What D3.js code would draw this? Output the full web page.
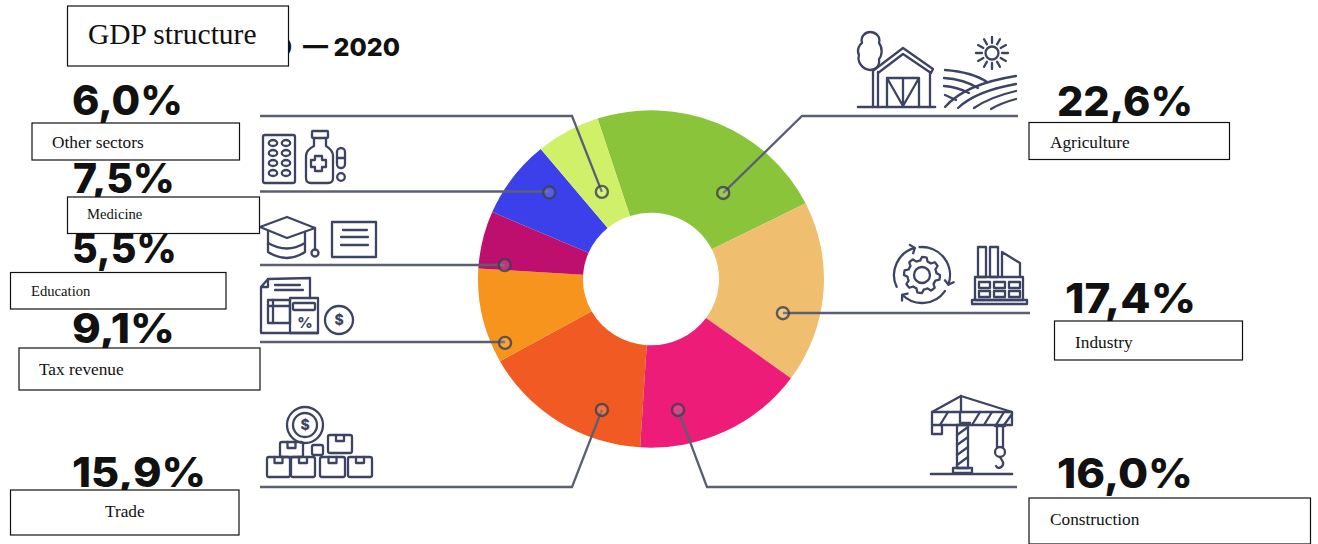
<!DOCTYPE html>
<html>
<head>
<meta charset="utf-8">
<script src="https://cdn.jsdelivr.net/npm/d3@7"></script>
<style>
  html, body { margin: 0; padding: 0; background: #fff; overflow: hidden; }
  svg { display: block; }
  .pct { font-family: Inter, sans-serif; font-weight: 800; fill: #111; }
  .tag { font-family: "Liberation Serif", serif; fill: #111; }
  .ico { fill: none; stroke: #3d4463; stroke-width: 2.3; stroke-linecap: round; stroke-linejoin: round; }
</style>
</head>
<body>
<script>
// GDP structure by sector, in percent, clockwise from the top of the ring
const categories = ["Agriculture", "Industry", "Construction", "Trade", "Tax revenue", "Education", "Medicine", "Other sectors"];
const shares = [22.6, 17.4, 16.0, 15.9, 9.1, 5.5, 7.5, 6.0];
const sliceColors = ["#8AC43A", "#EFBF6F", "#EC1C78", "#F15A22", "#F7941D", "#BE0F6E", "#3B40EA", "#D1F06A"];

const chartTitle = "GDP structure";
const titleYearEdge = "9";
const titleTail = "\u2014 2020";

// Where each leader sits inside its slice: fraction across the slice, distance from centre
const anchorFraction = [0.704, 0.663, 0.74, 0.288, 0.152, 0.1, 0.655, 0.5];
const anchorRadius = [114, 136.5, 137, 143, 160, 147, 135, 102];

// Leader routing: height of the rule, far end of the rule, optional elbow
const ruleY = [116, 313, 487, 487, 342, 265, 191.5, 116];
const ruleEnd = [1018, 1030, 1017, 260, 260, 260, 260, 260];
const ruleElbow = [802, null, 707, 572, null, null, null, 572];

// Large percentage labels: left edge, baseline and drawn width
const pctX = [1057, 1065, 1057, 72, 72, 72, 73, 72];
const pctY = [116, 313, 488, 487, 343, 263, 193, 115];
const pctWidth = [136, 131, 136, 134, 103, 105, 102, 111];

// Caption boxes: [x, y, width, height], then text start, baseline and size
const tagBox = [
  [1029, 122.5, 200.5, 37], [1054.5, 321, 188, 39], [1029, 498, 281.5, 46], [10.5, 490, 228.5, 45],
  [19, 348, 241, 42], [10.5, 272.5, 215.5, 36.5], [67.5, 197, 192, 36.5], [32, 123, 207.5, 37]
];
const tagTextX = [1050, 1075, 1050, 105, 39, 31, 87, 52];
const tagTextY = [148, 348, 525, 517, 375, 296, 219, 148];
const tagSize = [17.3, 17.3, 17.3, 17.3, 17.3, 14.67, 14.67, 17.3];

const width = 1318, height = 544;
const cx = 651, cy = 279, outerR = 173, innerR = 68, squash = 0.975;
const startDeg = -18;

const svg = d3.select("body").append("svg").attr("width", width).attr("height", height);
const rad = Math.PI / 180;

// --- Header remnant that runs behind the title box
svg.append("text").attr("class", "pct").attr("x", 292).attr("y", 56)
  .attr("text-anchor", "end").attr("font-size", 25).text(titleYearEdge);
svg.append("text").attr("class", "pct").attr("x", 400).attr("y", 56)
  .attr("text-anchor", "end").attr("font-size", 25).text(titleTail);

// --- Ring
const pie = d3.pie().sort(null).startAngle(startDeg * rad).endAngle((startDeg + 360) * rad);
const slices = pie(shares);
const arc = d3.arc().innerRadius(innerR).outerRadius(outerR);
const ring = svg.append("g").attr("transform", `translate(${cx},${cy}) scale(1,${squash})`);
ring.selectAll("path").data(slices).join("path")
  .attr("d", arc).attr("fill", (d, i) => sliceColors[i]);

// --- Leaders, rules and ring markers
const anchorOf = (d, i) => {
  const a = d.startAngle + (d.endAngle - d.startAngle) * anchorFraction[i];
  return [cx + anchorRadius[i] * Math.sin(a), cy - squash * anchorRadius[i] * Math.cos(a)];
};
const line = d3.line();
const leaders = svg.append("g");
leaders.selectAll("path").data(slices).join("path")
  .attr("d", (d, i) => {
    const [ax, ay] = anchorOf(d, i);
    const pts = [[ruleEnd[i], ruleY[i]]];
    if (ruleElbow[i] !== null) { pts.push([ruleElbow[i], ruleY[i]]); pts.push([ax, ay]); }
    else pts.push([ax, ruleY[i]]);
    return line(pts);
  })
  .attr("fill", "none").attr("stroke", "#5a5f73").attr("stroke-width", 2.3);
leaders.selectAll("circle").data(slices).join("circle")
  .attr("cx", (d, i) => anchorOf(d, i)[0])
  .attr("cy", (d, i) => anchorOf(d, i)[1])
  .attr("r", 6)
  .attr("fill", "rgba(255,255,255,0.15)")
  .attr("stroke", "#3c3f4a").attr("stroke-opacity", 0.8).attr("stroke-width", 2.4);

// --- Sector icons
const icons = svg.append("g").attr("class", "ico");
const P = (d, w) => icons.append("path").attr("d", d).attr("stroke-width", w || null);
const C = (x, y, r, w) => icons.append("circle").attr("cx", x).attr("cy", y).attr("r", r).attr("stroke-width", w || null);
const R = (x, y, w, h, rr) => icons.append("rect").attr("x", x).attr("y", y).attr("width", w).attr("height", h).attr("rx", rr || 0);
const glyph = (x, y, s, t) => svg.append("text").attr("x", x).attr("y", y)
  .attr("text-anchor", "middle").attr("font-family", "Inter, sans-serif").attr("font-weight", 800)
  .attr("font-size", s).attr("fill", "#3d4463").text(t);

// Farm: tree, barn, sun and furrows
P("M870 70 C862 69 857 62 859 55 C856 50 860 44 862 43 C860 36 866 32 870 32 C875 32 881 36 879 43 C883 48 882 56 879 59 C880 66 876 70 870 70 Z");
P("M873 70 L873 107 M878 72 L878 107");
P("M874 70 L903 48 L933 69 L931 73 L903 54 L878 73");
P("M930 72 L930 107");
P("M858 107 L935 107", 2.6);
P("M887 107 L887 78 L919 78 L919 107 M887 78 L903 106 L919 78 M903 78 L903 106");
C(992, 53, 6.5);
d3.range(12).forEach(k => {
  const a = k * 30 * rad;
  P(`M${992 + 10 * Math.cos(a)} ${53 + 10 * Math.sin(a)} L${992 + 16 * Math.cos(a)} ${53 + 16 * Math.sin(a)}`);
});
P("M945 70 Q972 72 987 82 M944 78 Q963 79 978 88 M944 86 Q957 87 969 93 M945 95 L956 100");
P("M945 107 Q965 84 1016 76 M958 108 Q976 91 1016 84 M974 108 Q990 97 1016 91 M991 109 Q1001 103 1016 99");

// Gear inside a circular arrow, and factory
const gcx = 922, gcy = 275;
const gearPts = d3.range(48).map(k => {
  const a = k / 48 * 2 * Math.PI;
  const r = (k % 6 < 3) ? 18 : 14.5;
  return [gcx + r * Math.cos(a), gcy + r * Math.sin(a)];
});
P(d3.line().curve(d3.curveLinearClosed)(gearPts));
C(gcx, gcy, 8);
const polar = (deg, r) => [gcx + r * Math.sin(deg * rad), gcy - r * Math.cos(deg * rad)];
const ringArc = d3.arc().innerRadius(28).outerRadius(28);
[[-5, 110], [125, 225], [245, 345]].forEach(([a0, a1]) => {
  P(ringArc({ startAngle: a0 * rad, endAngle: a1 * rad }).split("Z")[0].split("L")[0])
    .attr("transform", `translate(${gcx},${gcy})`);
  // arrowhead at the clockwise end of each arc
  const [hx, hy] = polar(a1, 28), [b1x, b1y] = polar(a1 - 7, 32.5), [b2x, b2y] = polar(a1 - 7, 23.5);
  P(`M${b1x} ${b1y} L${hx} ${hy} L${b2x} ${b2y}`);
});
R(978, 247, 8, 30); R(990, 247, 8, 30);
P("M1002 277 L1002 252 L1020 263 L1020 277");
R(975, 277, 48, 23); R(972, 300, 55, 4);
[979, 994, 1009].forEach(x => { R(x, 282, 11, 6); R(x, 291, 11, 6); });

// Tower crane
P("M961 396 L932 412 M961 396 L1012 412 M961 396 L961 412");
R(932, 412, 80, 13);
P("M940 425 L948 412 M972 425 L980 412 M984 425 L992 412 M996 425 L1004 412 M1004 425 L1012 414");
P("M960 412 L960 423 L970 423");
P("M932 425 L932 434 L942 434 L942 425");
R(957, 425, 11, 43);
P("M957 435 L968 427 M957 445 L968 437 M957 455 L968 447 M957 465 L968 457");
R(953, 468, 19, 5);
P("M995 426 L1005 426 M997 426 L997 447 M1003 426 L1003 447");
C(1000, 452, 5);
P("M1000 457 L1003 462 C1004 467 998 470 996 466");
P("M931 474 L1012 474", 2.6);

// Medicine: blister pack, bottle, capsule and pill
R(263, 135, 32, 48, 2);
[273, 286].forEach(x => [143, 153, 163, 173].forEach(y =>
  icons.append("ellipse").attr("cx", x).attr("cy", y).attr("rx", 4.2).attr("ry", 3)));
R(312, 131, 16, 7, 1);
P("M314 138 L314 146 C308 149 306 152 306 156 L306 178 Q306 183 311 183 L328 183 Q333 183 333 178 L333 156 C333 152 331 149 326 146 L326 138");
P("M315 156 L322 156 L322 160 L326 160 L326 167 L322 167 L322 171 L315 171 L315 167 L311 167 L311 160 L315 160 Z");
R(337, 148, 8, 20, 4);
P("M337 158 L345 158");
C(341, 177, 3.8);

// Education: mortarboard and notice card
P("M260 227 L287 217 L315 228 L287 238 Z");
P("M268 231 L268 252 Q287 264 305 252 L305 232");
P("M268 243 Q287 254 305 243");
P("M315 228 L315 249");
C(315, 253, 3.5);
R(332, 222, 44, 35);
P("M343 230 L367 230 M341 237 L368 237 M341 245 L368 245");

// Taxes: sheet, table, calculator, coin
P("M268 279 L310 278 L310 298 M268 279 L261 287 L268 287 L268 279 M261 287 L261 333 L318 333");
P("M275 285 L300 285 M275 290 L303 290");
R(268, 300, 22, 23);
P("M273 300 L273 323 M268 306 L290 306");
R(290, 298, 28, 35);
R(293, 303, 22, 7, 1);
C(339, 320, 14);
glyph(339, 325, 14, "$");
glyph(305, 328, 15, "%");

// Trade: coin above stacked parcels
C(305, 425, 18); C(305, 425, 12);
glyph(305, 430, 14, "$");
[[267, 457, 23, 20], [291, 457, 24, 20], [320, 457, 25, 20], [348, 457, 24, 20],
 [280, 442, 23, 15], [328, 435, 24, 18], [312, 445, 11, 10]].forEach(([x, y, w, h]) => {
  R(x, y, w, h, 2);
  if (w > 15) P(`M${x + w / 2 - 4} ${y} L${x + w / 2 - 4} ${y + 6} L${x + w / 2 + 4} ${y + 6} L${x + w / 2 + 4} ${y}`);
});

// --- Percentage labels, each stretched to its drawn width
const pctLabels = shares.map(v => v.toFixed(1).replace(".", ",") + "%");
svg.append("g").selectAll("text").data(pctLabels).join("text")
  .attr("class", "pct")
  .attr("font-size", 41)
  .text(d => d)
  .attr("transform", function (d, i) {
    return `translate(${pctX[i]},${pctY[i]}) scale(${pctWidth[i] / this.getComputedTextLength()},1)`;
  });

// --- Caption boxes laid over the labels
const tags = svg.append("g");
tags.selectAll("rect").data(categories).join("rect")
  .attr("x", (d, i) => tagBox[i][0]).attr("y", (d, i) => tagBox[i][1])
  .attr("width", (d, i) => tagBox[i][2]).attr("height", (d, i) => tagBox[i][3])
  .attr("fill", "#fff").attr("stroke", "#111").attr("stroke-width", 1.2);
tags.selectAll("text").data(categories).join("text")
  .attr("class", "tag")
  .attr("x", (d, i) => tagTextX[i]).attr("y", (d, i) => tagTextY[i])
  .attr("font-size", (d, i) => tagSize[i])
  .text(d => d);

// --- Title box
svg.append("rect").attr("x", 67.5).attr("y", 6).attr("width", 221).attr("height", 60)
  .attr("fill", "#fff").attr("stroke", "#111").attr("stroke-width", 1.2);
svg.append("text").attr("class", "tag").attr("x", 88).attr("y", 44)
  .attr("font-size", 29.5).text(chartTitle);
</script>
</body>
</html>
